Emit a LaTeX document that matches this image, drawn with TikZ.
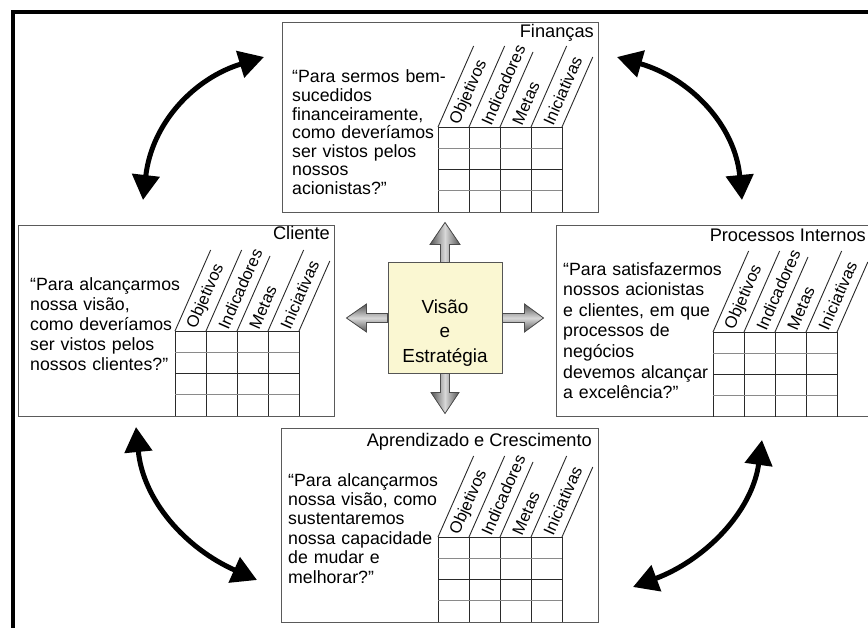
\documentclass[tikz,border=0pt]{standalone}
\usepackage{fontspec}
\setmainfont{Liberation Sans}
\usetikzlibrary{arrows.meta}
\definecolor{boxline}{HTML}{5A5A5A}
\definecolor{gridline}{HTML}{2A2A2A}
\definecolor{gridlight}{HTML}{8A8A8A}
\definecolor{visfill}{HTML}{FAF7D2}
\definecolor{visline}{HTML}{555555}
\definecolor{arrdark}{HTML}{555555}
\definecolor{arrlight}{HTML}{D8D8D8}

\newcommand\bscgrid[3]{%
  \foreach \i in {0,...,4} {\draw[gridl] (#1+31*\i,#2) -- (#1+31*\i,#2+85);}
  \draw[gridl]  (#1,#2) -- (#1+124,#2);
  \draw[gridlt] (#1,#2+21.25) -- (#1+124,#2+21.25);
  \draw[gridl]  (#1,#2+42.5) -- (#1+124,#2+42.5);
  \draw[gridlt] (#1,#2+63.75) -- (#1+124,#2+63.75);
  \foreach \i/\h in {0/81,1/81,2/75,3/81,4/70} {\draw[gridl] (#1+31*\i,#2) -- ++(0.44*\h,-\h);}
  \foreach \i/\t in {0/Objetivos,1/Indicadores,2/Metas,3/Iniciativas}
    {\node[colhead] (#3-h\i) at (#1+31*\i+16.8,#2-3) {\t};}
}

\begin{document}
\begin{tikzpicture}[x=1bp,y=-1bp,
  persp/.style={draw=boxline, line width=1.2bp, fill=white, inner sep=0, anchor=north west},
  body/.style={anchor=base west, inner sep=0, text width=200bp, align=left},
  title/.style={anchor=base east, inner sep=0, font=\fontsize{18.3}{20}\selectfont},
  colhead/.style={anchor=west, inner sep=0, rotate=66, font=\fontsize{16.6}{18}\selectfont},
  gridl/.style={draw=gridline, line width=0.9bp},
  gridlt/.style={draw=gridlight, line width=0.9bp},
  cyc/.style={line width=5bp, black, {Triangle[length=25bp,width=27bp]}-{Triangle[length=25bp,width=27bp]}},
  blkv/.style={draw=black!70, line width=0.8bp, left color=arrdark, right color=arrdark, middle color=arrlight},
  blkh/.style={draw=black!70, line width=0.8bp, top color=arrdark, bottom color=arrdark, middle color=arrlight}
]
\useasboundingbox (0,0) rectangle (868,628);
\clip (0,0) rectangle (868,628);

% outer frame
\draw[line width=4bp] (12.5,700) -- (12.5,12.5) -- (900,12.5);

% perspective boxes
\node[persp, minimum width=316bp, minimum height=190bp] (fin) at (282,22) {};
\node[persp, minimum width=316bp, minimum height=191bp] (cli) at (18,225) {};
\node[persp, minimum width=330bp, minimum height=191bp] (pro) at (556,225) {};
\node[persp, minimum width=317bp, minimum height=194bp] (apr) at (281,428) {};

% grids
\bscgrid{438}{127}{fin}
\bscgrid{175}{331}{cli}
\bscgrid{713}{332}{pro}
\bscgrid{438}{537}{apr}

% titles
\node[title] (fin-t) at (594,38) {Finanças};
\node[title] (cli-t) at (330,240) {Cliente};
\node[title] (pro-t) at (866,242) {Processos Internos};
\node[title] (apr-t) at (592,446) {Aprendizado e Crescimento};

% questions
\node[body, font=\fontsize{17.8}{18.6}\selectfont] (fin-q) at (292,83)
  {“Para sermos bem-\\sucedidos\\financeiramente,\\como deveríamos\\ser vistos pelos\\nossos\\acionistas?"};
\node[body, font=\fontsize{17.8}{20.3}\selectfont] (cli-q) at (30,290)
  {“Para alcançarmos\\nossa visão,\\como deveríamos\\ser vistos pelos\\nossos clientes?"};
\node[body, font=\fontsize{17.8}{20.7}\selectfont] (pro-q) at (563,275)
  {“Para satisfazermos\\nossos acionistas\\e clientes, em que\\processos de\\negócios\\devemos alcançar\\a excelência?"};
\node[body, font=\fontsize{17.8}{19.5}\selectfont] (apr-q) at (288,486)
  {“Para alcançarmos\\nossa visão, como\\sustentaremos\\nossa capacidade\\de mudar e\\melhorar?"};

% centre
\node[draw=visline, line width=1bp, fill=visfill, minimum width=114bp, minimum height=110bp, inner sep=0] (vis) at (445,318) {};
\node[inner sep=0, align=center, font=\fontsize{19}{24.5}\selectfont] (vis-t) at (445,333) {Visão\\e\\Estratégia};

% block arrows
\filldraw[blkv] (vis.north) ++(-4.5,0) -- ++(0,-18) -- ++(-10.5,0) -- ++(15,-22) -- ++(15,22) -- ++(-10.5,0) -- ++(0,18) -- cycle;
\filldraw[blkv] (vis.south) ++(-4.5,0) -- ++(0,19) -- ++(-9.5,0) -- ++(14,21) -- ++(14,-21) -- ++(-9.5,0) -- ++(0,-19) -- cycle;
\filldraw[blkh] (vis.west) ++(0,-4.5) -- ++(-21,0) -- ++(0,-9.5) -- ++(-20,14) -- ++(20,14) -- ++(0,-9.5) -- ++(21,0) -- cycle;
\filldraw[blkh] (vis.east) ++(0,-4.5) -- ++(22,0) -- ++(0,-9.5) -- ++(19,14) -- ++(-19,14) -- ++(0,-9.5) -- ++(-22,0) -- cycle;

% cycle arrows
\coordinate (c1a) at (143,200); \coordinate (c1b) at (264,57);
\coordinate (c2a) at (617,57);  \coordinate (c2b) at (742,200);
\coordinate (c3a) at (136,427); \coordinate (c3b) at (257,580);
\coordinate (c4a) at (762,440); \coordinate (c4b) at (633,587);
\draw[cyc] (c1a) .. controls (152,122) and (195,78) .. (c1b);
\draw[cyc] (c2a) .. controls (690,78) and (735,125) .. (c2b);
\draw[cyc] (c3a) .. controls (143,500) and (185,548) .. (c3b);
\draw[cyc] (c4a) .. controls (752,512) and (705,560) .. (c4b);
\end{tikzpicture}
\end{document}
